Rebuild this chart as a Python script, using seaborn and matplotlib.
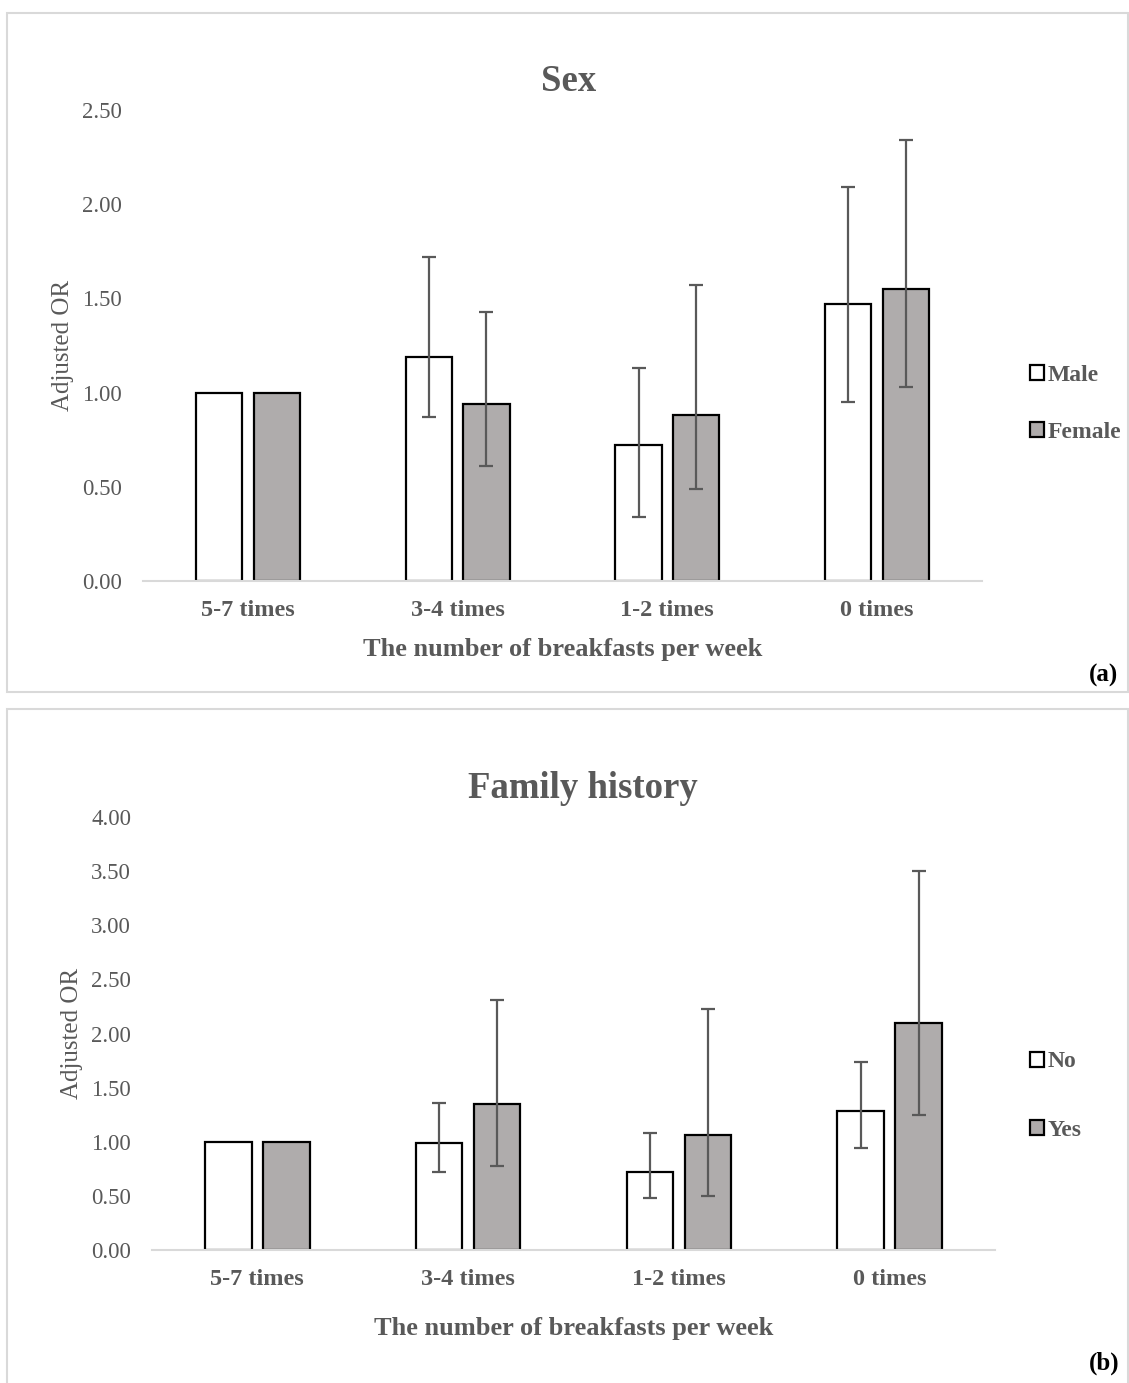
import numpy as np
import pandas as pd
import matplotlib.pyplot as plt
import seaborn as sns
from matplotlib.patches import Patch, Rectangle

# ---------------------------------------------------------
# data
# ---------------------------------------------------------
categories = ["5-7 times", "3-4 times", "1-2 times", "0 times"]

# panel (a) - sex
male_or = [1.00, 1.19, 0.72, 1.47]
male_lo = [1.00, 0.87, 0.34, 0.95]
male_hi = [1.00, 1.72, 1.13, 2.09]
female_or = [1.00, 0.94, 0.88, 1.55]
female_lo = [1.00, 0.61, 0.49, 1.03]
female_hi = [1.00, 1.43, 1.57, 2.34]

# panel (b) - family history
no_or = [1.00, 0.99, 0.72, 1.28]
no_lo = [1.00, 0.72, 0.48, 0.94]
no_hi = [1.00, 1.36, 1.08, 1.74]
yes_or = [1.00, 1.35, 1.06, 2.10]
yes_lo = [1.00, 0.78, 0.50, 1.25]
yes_hi = [1.00, 2.31, 2.23, 3.50]

GREY_TXT = "#595959"
FILL = "#AFABAB"

sns.set_theme(style="white")
plt.rcParams["font.family"] = ["Liberation Serif", "DejaVu Serif"]

W, H = 1129, 1383
fig = plt.figure(figsize=(W / 100, H / 100), dpi=100)

# light frames round each panel
fig.patches.append(Rectangle((7 / W, 1 - 692 / H), 1121 / W, 679 / H,
                             transform=fig.transFigure, fill=False,
                             edgecolor="#D9D9D9", linewidth=1.5))
fig.patches.append(Rectangle((7 / W, 0 - 5 / H), 1121 / W, (1383 - 709 + 5) / H,
                             transform=fig.transFigure, fill=False,
                             edgecolor="#D9D9D9", linewidth=1.5))


def make_frame(groups, names):
    rows = []
    for name, (vals, lo, hi) in zip(names, groups):
        for c, v, l, h in zip(categories, vals, lo, hi):
            rows.append({"cat": c, "group": name, "or": v, "lo": l, "hi": h})
    return pd.DataFrame(rows)


def draw_panel(rect, df, names, title, title_x, ymax, step, legend_y, leg_space,
               letter, letter_y, xtick_pad, xlabel_pad):
    ax = fig.add_axes(rect)
    pal = {names[0]: "white", names[1]: FILL}
    sns.barplot(data=df, x="cat", y="or", hue="group", order=categories,
                hue_order=names, palette=pal, width=0.55, gap=0.2,
                edgecolor="black", linewidth=1.6, errorbar=None,
                legend=False, ax=ax)

    # confidence intervals
    for cont, name in zip(ax.containers, names):
        sub = df[df["group"] == name].set_index("cat").loc[categories]
        for bar, (_, r) in zip(cont, sub.iterrows()):
            if r["lo"] == r["hi"]:
                continue
            x = bar.get_x() + bar.get_width() / 2
            ax.errorbar(x, r["or"], yerr=[[r["or"] - r["lo"]], [r["hi"] - r["or"]]],
                        fmt="none", ecolor=GREY_TXT, elinewidth=1.6,
                        capsize=5, capthick=1.6, zorder=5)

    ax.set_ylim(0, ymax)
    ax.set_xlim(-0.5, 3.5)
    ticks = np.arange(0, ymax + 0.001, step)
    ax.set_yticks(ticks)
    ax.set_yticklabels([f"{t:.2f}" for t in ticks], color=GREY_TXT, fontsize=16.5)
    ax.tick_params(axis="y", length=0, pad=15)
    ax.tick_params(axis="x", length=0, pad=xtick_pad)
    for lab in ax.get_xticklabels():
        lab.set_fontweight("bold")
        lab.set_color(GREY_TXT)
        lab.set_fontsize(17.5)
    for s in ["top", "right", "left"]:
        ax.spines[s].set_visible(False)
    ax.spines["bottom"].set_color("#D9D9D9")
    ax.spines["bottom"].set_linewidth(1.5)
    ax.set_ylabel("Adjusted OR", color=GREY_TXT, fontsize=18, labelpad=6)
    ax.set_xlabel("The number of breakfasts per week", color=GREY_TXT,
                  fontsize=19, fontweight="bold", labelpad=xlabel_pad)
    ax.set_title(title, color=GREY_TXT, fontsize=26.5, fontweight="bold",
                 pad=14, x=title_x)

    handles = [Patch(facecolor=pal[n], edgecolor="black", linewidth=1.6) for n in names]
    leg = fig.legend(handles, names, loc="center left",
                     bbox_to_anchor=(1030 / W, legend_y), frameon=False,
                     borderpad=0, borderaxespad=0,
                     handlelength=0.6, handleheight=0.6, handletextpad=0.15,
                     labelspacing=leg_space, prop={"family": "Liberation Serif",
                                                   "weight": "bold", "size": 17})
    for t in leg.get_texts():
        t.set_color(GREY_TXT)
    fig.text(1104 / W, letter_y, letter, ha="center", va="center",
             fontsize=18, fontweight="bold", color="black")
    return ax


df_a = make_frame([(male_or, male_lo, male_hi), (female_or, female_lo, female_hi)],
                  ["Male", "Female"])
df_b = make_frame([(no_or, no_lo, no_hi), (yes_or, yes_lo, yes_hi)],
                  ["No", "Yes"])

draw_panel([143 / W, 1 - 581 / H, 839 / W, 471 / H], df_a, ["Male", "Female"],
           "Sex", 0.507, 2.5, 0.5, 1 - 404 / H, 1.52, "(a)", 1 - 675 / H, 14, 12)
draw_panel([152 / W, 1 - 1250 / H, 843 / W, 433 / H], df_b, ["No", "Yes"],
           "Family history", 0.511, 4.0, 0.5, 1 - 1096 / H, 2.0, "(b)", 1 - 1363 / H,
           14, 19)

fig.savefig("out.png", dpi=100)
